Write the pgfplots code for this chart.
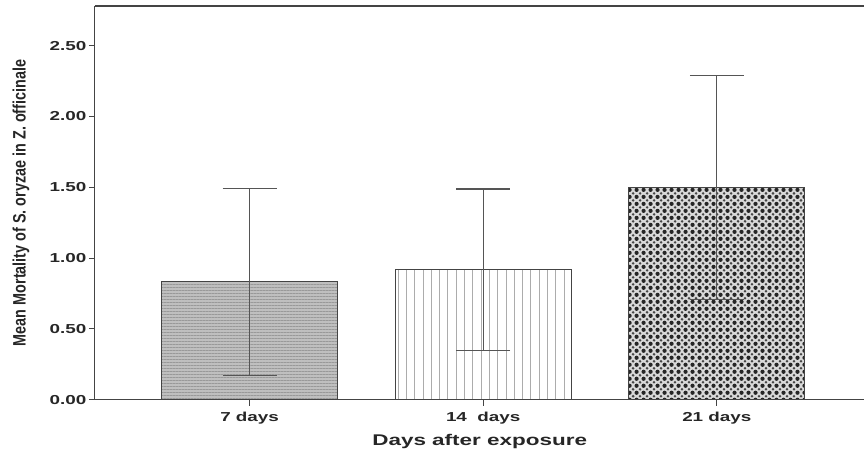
\documentclass[border=0pt]{standalone}
\usepackage{pgfplots}
\pgfplotsset{compat=1.18}
\usetikzlibrary{patterns.meta}
\usepackage{fontspec}
\setmainfont{Liberation Sans}
\newfontfamily\narrowfont[FakeStretch=0.8]{Liberation Sans}
\newfontfamily\widefont[FakeStretch=1.45]{Liberation Sans}
\definecolor{axgray}{HTML}{444444}
\definecolor{ebgray}{HTML}{555555}
\begin{document}
\begin{tikzpicture}
\begin{axis}[
  scale only axis,
  width=770pt, height=394pt,
  xmin=-0.662, xmax=2.632,
  ymin=0, ymax=2.78,
  axis x line*=bottom, axis y line*=left,
  axis line style={axgray, line width=1.1pt, -},
  xtick={0,1,2},
  xticklabels={7 days, 14\ \ days, 21 days},
  ytick={0,0.5,1,1.5,2,2.5},
  yticklabel style={/pgf/number format/fixed, /pgf/number format/fixed zerofill, /pgf/number format/precision=2},
  /pgf/number format/assume math mode=true,
  ticklabel style={font=\widefont\fontsize{13}{15}\selectfont\bfseries, text=black!85},
  xticklabel style={yshift=-3pt},
  yticklabel style={xshift=1pt},
  tick style={axgray, line width=1pt},
  major tick length=6pt,
  tick align=outside,
  xtick pos=bottom, ytick pos=left,
  xlabel={Days after exposure},
  xlabel style={font=\widefont\fontsize{15.5}{17}\selectfont\bfseries, text=black!85, yshift=-3pt},
  ylabel={Mean Mortality of S. oryzae in Z. officinale},
  every axis y label/.style={at={(rel axis cs:-0.0961,0.5)}, rotate=90, anchor=center,
    font=\narrowfont\fontsize{18}{20}\selectfont\bfseries, text=black!85},
  ybar, bar width=176pt, bar shift=0pt,
  error bars/y dir=both, error bars/y explicit,
  error bars/error bar style={ebgray, line width=1.3pt},
  error bars/error mark options={rotate=90, mark size=27pt, line width=1.3pt, ebgray},
]
\addplot[draw=axgray, line width=1pt, fill=gray!50,
  postaction={pattern={Lines[angle=0, distance=3pt, line width=0.9pt]}, pattern color=gray!80}]
  coordinates {(0,0.833) +- (0,0.66)};
\addplot[draw=axgray, line width=1pt, fill=white,
  postaction={pattern={Lines[angle=90, distance=8.3pt, line width=0.9pt]}, pattern color=gray!65}]
  coordinates {(1,0.917) +- (0,0.57)};
\addplot[draw=axgray, line width=1pt, fill=gray!30,
  postaction={pattern={Dots[distance=7pt, radius=2.1pt]}, pattern color=gray!30!black},
  postaction={pattern={Dots[distance=7pt, radius=1.4pt, xshift=3.5pt, yshift=3.5pt]}, pattern color=gray!55!black}]
  coordinates {(2,1.50) +- (0,0.79)};
\draw[axgray, line width=1.1pt] (rel axis cs:0,1) -- (rel axis cs:1,1);
\coordinate (o) at (rel axis cs:0,0);
\coordinate (t) at (rel axis cs:1,1);
\end{axis}
\path (o) ++(-95pt,-56pt);
\path (t) ++(0,6pt);
\end{tikzpicture}
\end{document}
